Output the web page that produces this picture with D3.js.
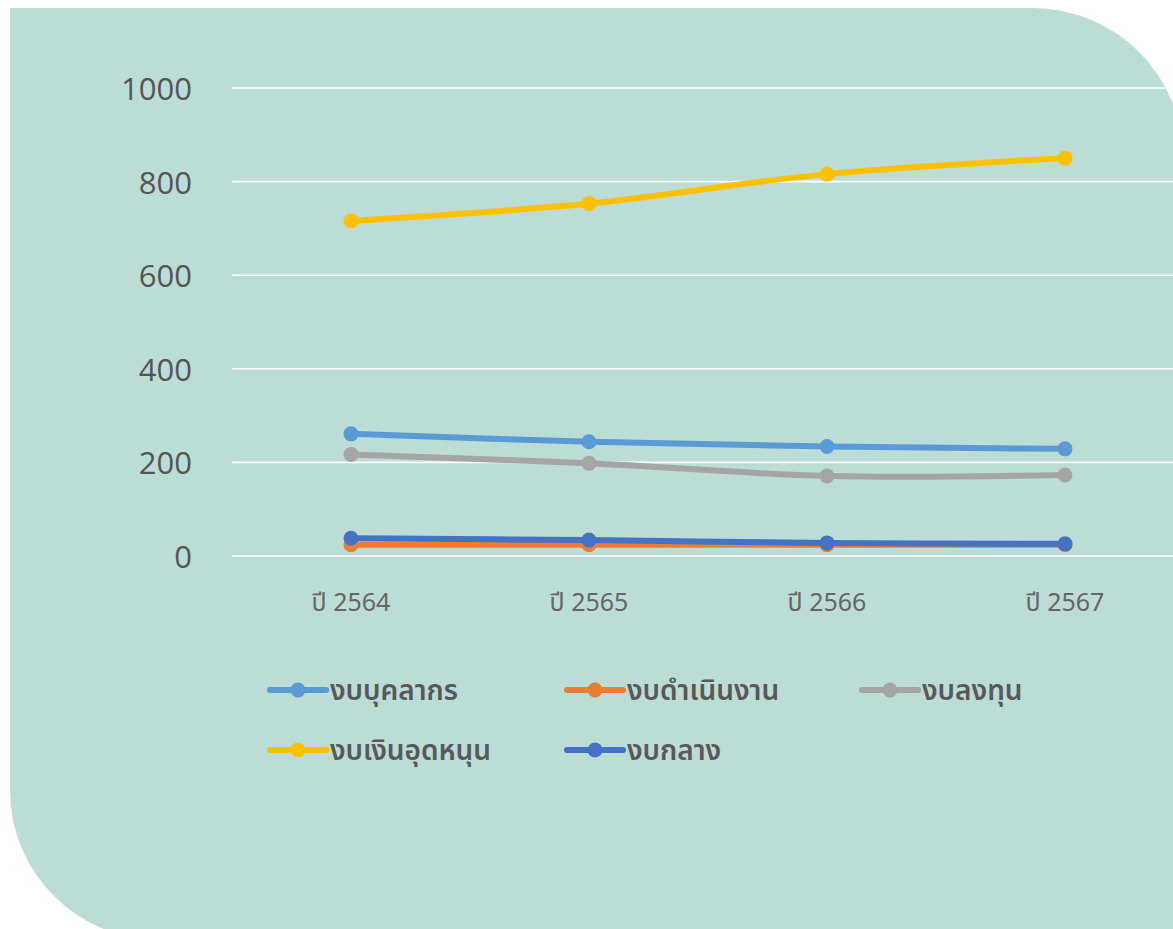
<!DOCTYPE html>
<html>
<head>
<meta charset="utf-8">
<script src="https://cdn.jsdelivr.net/npm/d3@7"></script>
<style>
  html, body { margin: 0; padding: 0; background: #ffffff; }
  svg { display: block; }
</style>
</head>
<body>
<svg id="chart" width="1173" height="929"></svg>
<script>
// Data
const years = ["ปี 2564", "ปี 2565", "ปี 2566", "ปี 2567"];
const seriesNames = ["งบบุคลากร", "งบดำเนินงาน", "งบลงทุน", "งบเงินอุดหนุน", "งบกลาง"];
const personnel = [261, 244, 234, 229];
const operating = [24, 24, 24, 24];
const investment = [217, 198, 171, 173];
const subsidy = [716, 753, 816, 850];
const central = [38, 34, 28, 26];
const yTicks = [0, 200, 400, 600, 800, 1000];

const COLORS = ["#5B9BD5", "#ED7D31", "#A5A5A5", "#FFC000", "#4472C4"];
const allSeries = [personnel, operating, investment, subsidy, central];

const svg = d3.select("#chart");

// Background leaf shape
svg.append("path")
  .attr("d", "M10,8 L1033,8 A150,150 0 0 1 1183,158 L1183,940 L160,940 A150,150 0 0 1 10,790 Z")
  .attr("fill", "#BCDCD6");

const x = d3.scaleBand().domain(years).range([232, 1184]);
const y = d3.scaleLinear().domain([0, 1000]).range([556, 88]);

// Gridlines
svg.append("g")
  .selectAll("line")
  .data(yTicks)
  .enter()
  .append("line")
  .attr("x1", 232)
  .attr("x2", 1184)
  .attr("y1", d => y(d))
  .attr("y2", d => y(d))
  .attr("stroke", "#ffffff")
  .attr("stroke-width", 1.6);

// Y labels
svg.append("g")
  .selectAll("text")
  .data(yTicks)
  .enter()
  .append("text")
  .attr("x", 192)
  .attr("y", d => y(d) + 12)
  .attr("text-anchor", "end")
  .attr("font-family", "'Open Sans', 'Noto Sans', sans-serif")
  .attr("font-size", "31px")
  .attr("fill", "#555555")
  .text(d => d);

// X labels
svg.append("g")
  .selectAll("text")
  .data(years)
  .enter()
  .append("text")
  .attr("x", d => x(d) + x.bandwidth() / 2)
  .attr("y", 611)
  .attr("text-anchor", "middle")
  .attr("font-family", "'Noto Sans', 'Noto Sans Thai', sans-serif")
  .attr("font-size", "25px")
  .attr("fill", "#666666")
  .text(d => d);

// Lines
const line = d3.line()
  .x((d, i) => x(years[i]) + x.bandwidth() / 2)
  .y(d => y(d))
  .curve(d3.curveCatmullRom.alpha(0.5));

allSeries.forEach((vals, k) => {
  const g = svg.append("g");
  g.append("path")
    .datum(vals)
    .attr("d", line)
    .attr("fill", "none")
    .attr("stroke", COLORS[k])
    .attr("stroke-width", 6)
    .attr("stroke-linecap", "round");
  g.selectAll("circle")
    .data(vals)
    .enter()
    .append("circle")
    .attr("cx", (d, i) => x(years[i]) + x.bandwidth() / 2)
    .attr("cy", d => y(d))
    .attr("r", 7.5)
    .attr("fill", COLORS[k]);
});

// Legend
const legendPos = [[270, 690], [567, 690], [862, 690], [270, 750], [567, 750]];
const legend = svg.append("g");
seriesNames.forEach((name, k) => {
  const [lx, ly] = legendPos[k];
  legend.append("line")
    .attr("x1", lx).attr("x2", lx + 56)
    .attr("y1", ly).attr("y2", ly)
    .attr("stroke", COLORS[k])
    .attr("stroke-width", 6)
    .attr("stroke-linecap", "round");
  legend.append("circle")
    .attr("cx", lx + 28).attr("cy", ly)
    .attr("r", 7.5)
    .attr("fill", COLORS[k]);
  legend.append("text")
    .attr("x", lx + 60)
    .attr("y", ly + 10)
    .attr("font-family", "'Noto Sans', 'Noto Sans Thai', sans-serif")
    .attr("font-size", "28px")
    .attr("font-weight", "600")
    .attr("fill", "#595959")
    .text(name);
});
</script>
</body>
</html>
